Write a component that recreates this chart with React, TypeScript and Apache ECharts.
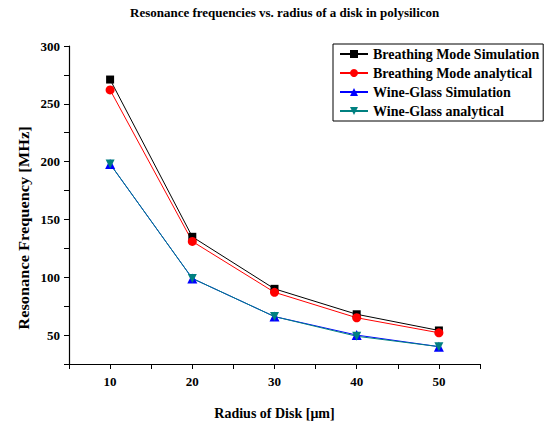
import React, { useEffect, useRef } from "react";
import * as echarts from "echarts";

const radius = [10, 20, 30, 40, 50];
const breathingSim = [271, 135, 90, 68, 54];
const breathingAna = [262, 131, 87, 65, 52];
const wineSim = [198, 99, 66, 50, 40];
const wineAna = [198, 99, 66, 49, 40];

const FONT = "'Liberation Serif', 'Times New Roman', serif";

export default function App() {
  const ref = useRef<HTMLDivElement>(null);
  useEffect(() => {
    if (!ref.current) return;
    const chart = echarts.init(ref.current, null, { renderer: "svg" });
    const pts = (ys: number[]) => radius.map((x, i) => [x, ys[i]]);
    const mk = (name: string, ys: number[], color: string, symbol: string, size: number) => ({
      name,
      type: "line",
      data: pts(ys),
      symbol,
      symbolSize: size,
      itemStyle: { color },
      lineStyle: { color, width: 1 },
    });
    chart.setOption({
      animation: false,
      backgroundColor: "#fff",
      title: {
        text: "Resonance frequencies vs. radius of a disk in polysilicon",
        left: 125,
        top: 1,
        textStyle: { fontFamily: FONT, fontWeight: "bold", fontSize: 13, color: "#000" },
      },
      grid: { left: 69, right: 68, top: 46, bottom: 55 },
      legend: {
        left: 333,
        top: 44,
        orient: "vertical",
        borderColor: "#000",
        borderWidth: 1,
        borderRadius: 0,
        padding: [3, 4, 3, 6],
        itemGap: 5,
        itemWidth: 28,
        itemHeight: 10,
        textStyle: { fontFamily: FONT, fontWeight: "bold", fontSize: 14, color: "#000" },
        data: [
          "Breathing Mode Simulation",
          "Breathing Mode analytical",
          "Wine-Glass Simulation",
          "Wine-Glass analytical",
        ],
      },
      xAxis: {
        type: "value",
        min: 5,
        max: 55,
        interval: 5,
        name: "Radius of Disk [μm]",
        nameLocation: "middle",
        nameGap: 42,
        nameTextStyle: { fontFamily: FONT, fontWeight: "bold", fontSize: 14, color: "#000" },
        axisLine: { lineStyle: { color: "#000", width: 1.2 } },
        axisTick: { show: true, length: 5, inside: false, lineStyle: { color: "#000" } },
        axisLabel: {
          margin: 11,
          fontFamily: FONT,
          fontWeight: "bold",
          fontSize: 13,
          color: "#000",
          formatter: (v: number) => (v % 10 === 0 ? String(v) : ""),
        },
        splitLine: { show: false },
      },
      yAxis: {
        type: "value",
        min: 25,
        max: 300,
        interval: 25,
        axisLine: { show: true, lineStyle: { color: "#000", width: 1.2 } },
        axisTick: { show: true, length: 5, inside: false, lineStyle: { color: "#000" } },
        axisLabel: {
          margin: 9,
          fontFamily: FONT,
          fontWeight: "bold",
          fontSize: 13,
          color: "#000",
          formatter: (v: number) => (v % 50 === 0 ? String(v) : ""),
        },
        splitLine: { show: false },
      },
      graphic: [
        {
          type: "text",
          x: 24,
          y: 228,
          rotation: Math.PI / 2,
          scaleX: 1.17,
          style: {
            text: "Resonance Frequency [MHz]",
            fontFamily: FONT,
            fontWeight: "bold",
            fontSize: 14,
            fill: "#000",
            textAlign: "center",
            textVerticalAlign: "middle",
          },
        },
      ],
      series: [
        mk("Breathing Mode Simulation", breathingSim, "#000000", "rect", 8),
        mk("Breathing Mode analytical", breathingAna, "#ff0000", "circle", 9),
        mk("Wine-Glass Simulation", wineSim, "#0000ff", "triangle", 10),
        mk("Wine-Glass analytical", wineAna, "#008080", "path://M0,0L10,0L5,9Z", 9),
      ],
    });
    return () => chart.dispose();
  }, []);
  return (
    <div
      ref={ref}
      style={{ position: "absolute", left: 0, top: 0, width: 548, height: 425 }}
    />
  );
}
